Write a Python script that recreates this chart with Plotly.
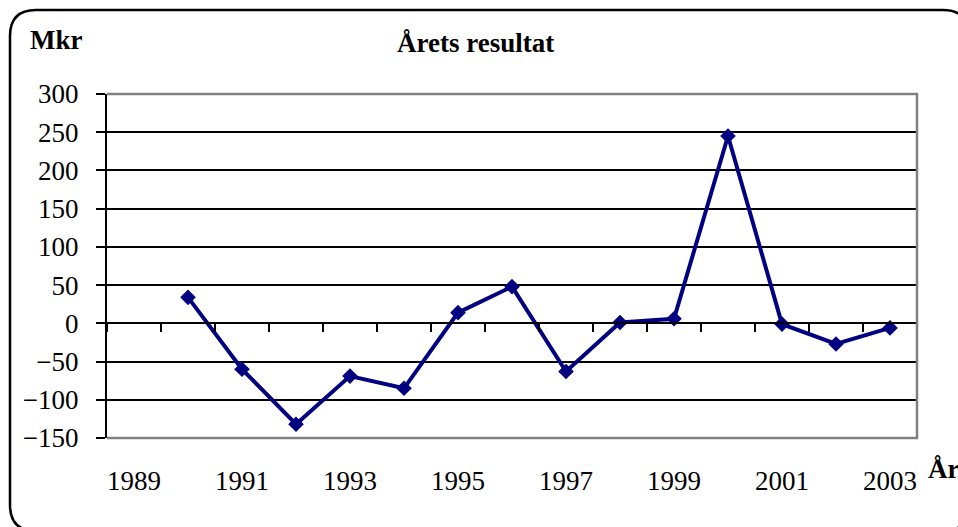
import plotly.graph_objects as go

years = [1990, 1991, 1992, 1993, 1994, 1995, 1996, 1997, 1998, 1999, 2000, 2001, 2002, 2003]
result = [34, -60, -132, -69, -85, 14, 48, -63, 1, 6, 245, -1, -27, -6]
x_tick_vals = [1989, 1991, 1993, 1995, 1997, 1999, 2001, 2003]
x_tick_text = [str(v) for v in x_tick_vals]
boundary_ticks = [1988.5 + i for i in range(16)]

W, H = 958, 527
L, R, T, B = 107, 917, 94, 438  # plot area pixels

def px(x):
    return (x - L) / (R - L)

def py(y):
    return (B - y) / (B - T)

FONT = "Liberation Serif, Times New Roman, serif"

fig = go.Figure()
fig.add_trace(go.Scatter(
    x=years, y=result, mode="lines+markers",
    line=dict(color="#000080", width=4),
    marker=dict(symbol="diamond", size=12, color="#000080"),
    showlegend=False, cliponaxis=False,
))
# invisible trace for the zero-crossing tick axis
fig.add_trace(go.Scatter(x=[1988.5, 2003.5], y=[0, 0], xaxis="x2", mode="lines",
                         line=dict(width=0), showlegend=False, hoverinfo="skip"))

# frame path (rounded rectangle)
fx0, fy0, fx1, fy1, r = 10, 10, 969, 531, 26
path = (f"M {px(fx0+r)},{py(fy0)} L {px(fx1-r)},{py(fy0)} "
        f"Q {px(fx1)},{py(fy0)} {px(fx1)},{py(fy0+r)} "
        f"L {px(fx1)},{py(fy1-r)} Q {px(fx1)},{py(fy1)} {px(fx1-r)},{py(fy1)} "
        f"L {px(fx0+r)},{py(fy1)} Q {px(fx0)},{py(fy1)} {px(fx0)},{py(fy1-r)} "
        f"L {px(fx0)},{py(fy0+r)} Q {px(fx0)},{py(fy0)} {px(fx0+r)},{py(fy0)} Z")

fig.update_layout(
    width=W, height=H,
    margin=dict(l=L, r=W - R, t=T, b=H - B),
    paper_bgcolor="white", plot_bgcolor="white",
    font=dict(family=FONT, size=27, color="black"),
    xaxis=dict(range=[1988.5, 2003.5], tickmode="array", tickvals=x_tick_vals,
               ticktext=x_tick_text, showgrid=False, zeroline=False,
               ticks="outside", ticklen=19, tickcolor="rgba(0,0,0,0)",
               showline=False),
    xaxis2=dict(overlaying="x", matches="x", anchor="free", position=1/3,
                tickmode="array", tickvals=boundary_ticks, showticklabels=False,
                ticks="outside", ticklen=8, tickwidth=1.5, tickcolor="black",
                showline=True, linecolor="black", linewidth=2,
                showgrid=False, zeroline=False),
    yaxis=dict(range=[-150, 300], dtick=50, tick0=0, showgrid=True,
               gridcolor="black", gridwidth=1.5, zeroline=False,
               showline=True, linecolor="black", linewidth=2,
               ticks="outside", ticklen=9, tickcolor="black", tickwidth=1.5,
               ticklabelstandoff=12),
    shapes=[
        dict(type="path", xref="paper", yref="paper",
             path="M 0,1 L 1,1 L 1,0 L 0,0", line=dict(color="#808080", width=2.5),
             layer="above"),
        dict(type="path", xref="paper", yref="paper", path=path,
             line=dict(color="black", width=2.5), layer="above"),
    ],
    annotations=[
        dict(text="<b>Årets resultat</b>", xref="paper", yref="paper",
             x=px(475), y=py(43), xanchor="center", yanchor="middle",
             showarrow=False, font=dict(size=27)),
        dict(text="<b>Mkr</b>", xref="paper", yref="paper",
             x=px(28), y=py(40), xanchor="left", yanchor="middle",
             showarrow=False, font=dict(size=27)),
        dict(text="<b>År</b>", xref="paper", yref="paper",
             x=px(926), y=py(469), xanchor="left", yanchor="middle",
             showarrow=False, font=dict(size=27)),
    ],
)

fig.write_html("out.html", config={"displayModeBar": False},
               post_script="document.body.style.margin='0px';document.body.style.padding='0px';document.body.style.overflow='hidden';")
